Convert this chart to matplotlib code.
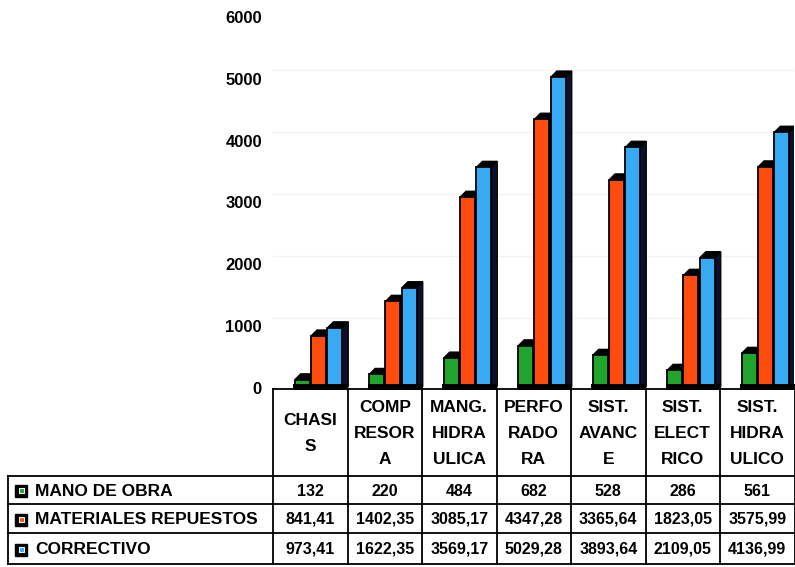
import matplotlib
matplotlib.use("Agg")
import matplotlib.pyplot as plt
from matplotlib.patches import Polygon, Rectangle
from matplotlib.lines import Line2D

plt.rcParams['font.family'] = ['Liberation Sans', 'DejaVu Sans']

# ---- data -------------------------------------------------------------
categories = ["CHASI\nS", "COMP\nRESOR\nA", "MANG.\nHIDRA\nULICA", "PERFO\nRADO\nRA",
              "SIST.\nAVANC\nE", "SIST.\nELECT\nRICO", "SIST.\nHIDRA\nULICO"]
series_names = ["MANO DE OBRA", "MATERIALES REPUESTOS", "CORRECTIVO"]
mano_obra = [132, 220, 484, 682, 528, 286, 561]
materiales = [841.41, 1402.35, 3085.17, 4347.28, 3365.64, 1823.05, 3575.99]
correctivo = [973.41, 1622.35, 3569.17, 5029.28, 3893.64, 2109.05, 4136.99]
y_ticks = [0, 1000, 2000, 3000, 4000, 5000, 6000]

series = [mano_obra, materiales, correctivo]
colors = ["#21a42c", "#ff4b0d", "#38a9f3"]
side_color = "#0d0f2a"

W, H = 795, 567
fig = plt.figure(figsize=(W / 100, H / 100), dpi=100)


def fx(px):
    return px / W


def fy(py):
    return 1 - py / H


# plot area (pixel layout)
ax_left, ax_right = 273, 794.5
ax_top, ax_bottom = 17, 388
ax = fig.add_axes([fx(ax_left), fy(ax_bottom), fx(ax_right - ax_left),
                   (ax_bottom - ax_top) / H])
n = len(categories)
ax.set_xlim(-0.5, n - 0.5)
ax.set_ylim(0, 6000)
for s in ax.spines.values():
    s.set_visible(False)
ax.set_xticks([])
ax.set_yticks(y_ticks)
ax.set_yticklabels([str(t) for t in y_ticks], fontsize=12, fontweight="bold")
ax.tick_params(axis="y", length=0, pad=8)
ax.patch.set_alpha(0)

# 3D depth offsets
px_per_cat = (ax_right - ax_left) / n
px_per_unit = (ax_bottom - ax_top) / 6000
dx = 6 / px_per_cat
dy = 6 / px_per_unit

# faint back-wall gridlines
for t in y_ticks[1:]:
    ax.plot([-0.5, n - 0.5], [t + 1.4 * dy, t + 1.4 * dy], color="#f3f3f3",
            lw=1, zorder=0)

offsets = [-0.11, 0.11, 0.33]
bw = 0.20
for j, (vals, col) in enumerate(zip(series, colors)):
    for i, v in enumerate(vals):
        x0 = i + offsets[j] - bw / 2
        x1 = x0 + bw
        z = 2 + j
        # side face
        ax.add_patch(Polygon([(x1, 0), (x1 + dx, dy * 0.2), (x1 + dx, v + dy), (x1, v)],
                             closed=True, facecolor=side_color, edgecolor="black",
                             lw=0.9, zorder=z))
        # top face
        ax.add_patch(Polygon([(x0, v), (x1, v), (x1 + dx, v + dy), (x0 + dx, v + dy)],
                             closed=True, facecolor="black", edgecolor="black",
                             lw=0.9, zorder=z))
        # front face
        ax.bar(x0, v, width=bw, align="edge", color=col, edgecolor="black",
               linewidth=1.3, zorder=z + 0.5)

# base shadow under each group
for i in range(n):
    x0 = i + offsets[0] - bw / 2 - 0.02
    x1 = i + offsets[-1] + bw / 2 + dx
    ax.add_patch(Rectangle((x0, -40), x1 - x0, 100, facecolor="black",
                           edgecolor="none", zorder=6, clip_on=False))

# ---- data table -------------------------------------------------------
line_kw = dict(color="black", lw=1.3, transform=fig.transFigure)
col_edges = [ax_left + k * px_per_cat for k in range(n + 1)]
hdr_top, row_top = 389, 476
row_lines = [476, 504, 533, 564]
tbl_left = 8

# header baseline and vertical separators
fig.add_artist(Line2D([fx(ax_left), fx(ax_right)], [fy(hdr_top), fy(hdr_top)], **line_kw))
for k, xe in enumerate(col_edges):
    fig.add_artist(Line2D([fx(xe), fx(xe)], [fy(hdr_top), fy(row_lines[-1])], **line_kw))
fig.add_artist(Line2D([fx(tbl_left), fx(tbl_left)], [fy(row_top), fy(row_lines[-1])], **line_kw))
for yl in row_lines:
    fig.add_artist(Line2D([fx(tbl_left), fx(ax_right)], [fy(yl), fy(yl)], **line_kw))

# category headers
for i, lab in enumerate(categories):
    cx = (col_edges[i] + col_edges[i + 1]) / 2
    fig.text(fx(cx), fy((hdr_top + row_top) / 2 + 1), lab, ha="center", va="center",
             fontsize=12.5, fontweight="bold", linespacing=1.95)


def fmt(v):
    if float(v).is_integer():
        return str(int(v))
    return f"{v:.2f}".replace(".", ",")


# rows: legend key, series name, values
for r, (name, vals, col) in enumerate(zip(series_names, series, colors)):
    cy = (row_lines[r] + row_lines[r + 1]) / 2 + 1
    fig.add_artist(Rectangle((fx(15), fy(cy + 6)), fx(12), 12 / H, facecolor="black",
                             edgecolor="black", transform=fig.transFigure))
    fig.add_artist(Rectangle((fx(18.5), fy(cy + 2)), fx(5), 5 / H, facecolor=col,
                             edgecolor="white", lw=0.8, transform=fig.transFigure))
    fig.text(fx(35), fy(cy), name, ha="left", va="center", fontsize=12.5,
             fontweight="bold")
    for i, v in enumerate(vals):
        cx = (col_edges[i] + col_edges[i + 1]) / 2
        fig.text(fx(cx), fy(cy), fmt(v), ha="center", va="center", fontsize=11.5,
                 fontweight="bold")

fig.savefig("out.png", dpi=100, facecolor="white")
